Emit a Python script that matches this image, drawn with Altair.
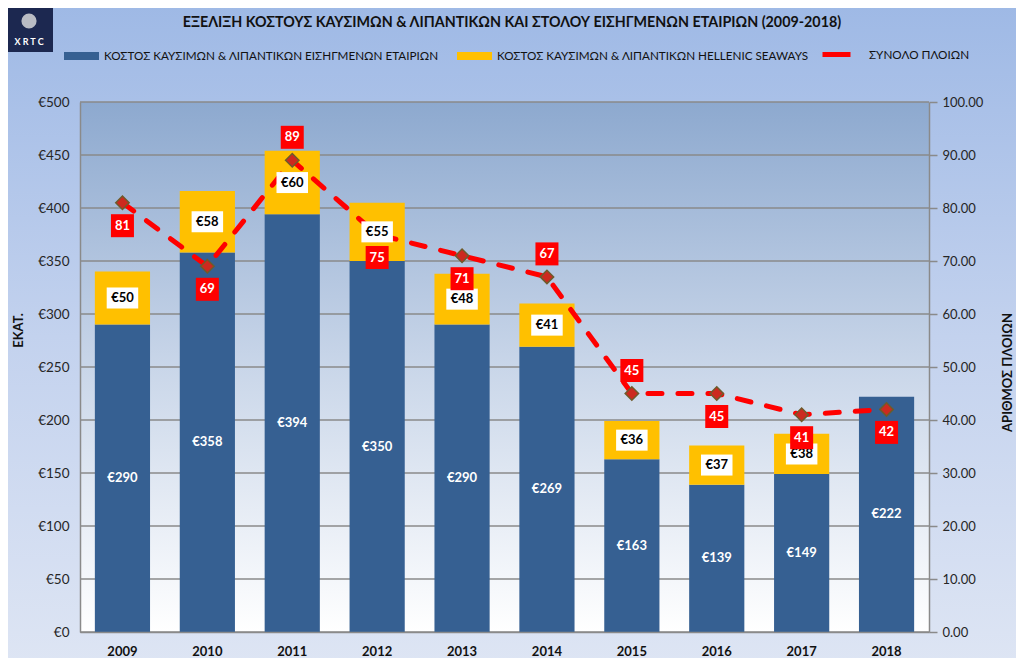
import altair as alt
import pandas as pd

# ---------------- data ----------------
years = ["2009", "2010", "2011", "2012", "2013", "2014", "2015", "2016", "2017", "2018"]
listed_cost = [290, 358, 394, 350, 290, 269, 163, 139, 149, 222]
hs_cost = [50, 58, 60, 55, 48, 41, 36, 37, 38, None]
ships = [81, 69, 89, 75, 71, 67, 45, 45, 41, 42]
ship_label_below = [True, True, False, True, True, False, False, True, True, True]
left_ticks = [0, 50, 100, 150, 200, 250, 300, 350, 400, 450, 500]
right_ticks = [0, 10, 20, 30, 40, 50, 60, 70, 80, 90, 100]

S1 = "ΚΟΣΤΟΣ ΚΑΥΣΙΜΩΝ & ΛΙΠΑΝΤΙΚΩΝ ΕΙΣΗΓΜΕΝΩΝ ΕΤΑΙΡΙΩΝ"
S2 = "ΚΟΣΤΟΣ ΚΑΥΣΙΜΩΝ & ΛΙΠΑΝΤΙΚΩΝ HELLENIC SEAWAYS"
S3 = "ΣΥΝΟΛΟ ΠΛΟΙΩΝ"
TITLE = "ΕΞΕΛΙΞΗ ΚΟΣΤΟΥΣ ΚΑΥΣΙΜΩΝ & ΛΙΠΑΝΤΙΚΩΝ ΚΑΙ ΣΤΟΛΟΥ ΕΙΣΗΓΜΕΝΩΝ ΕΤΑΙΡΙΩΝ (2009-2018)"

FONT = "Lato"
W, H = 849, 530
BLUE = "#366092"
YELLOW = "#FFC000"
RED = "#FF0000"
GRID = "#8a8a8a"
LEFT_MAX, RIGHT_MAX = 500, 100

# ---------------- tables ----------------
rows = []
for y, a, b in zip(years, listed_cost, hs_cost):
    rows.append({"year": y, "series": S1, "base": 0, "top": a, "val": a})
    if b is not None:
        rows.append({"year": y, "series": S2, "base": a, "top": a + b, "val": b})
bars_df = pd.DataFrame(rows)
bars_df["mid"] = (bars_df["base"] + bars_df["top"]) / 2
bars_df["label"] = "€" + bars_df["val"].astype(int).astype(str)

ships_df = pd.DataFrame({"year": years, "ships": ships, "below": ship_label_below})
ships_df["name"] = S3
ships_df["label"] = ships_df["ships"].astype(str)

grid_df = pd.DataFrame({"v": left_ticks})
one = pd.DataFrame({"k": [0]})

# ---------------- scales / axes ----------------
x_scale = alt.Scale(domain=years, paddingInner=0.35, paddingOuter=0.175)
yl_scale = alt.Scale(domain=[0, LEFT_MAX], nice=False)
yr_scale = alt.Scale(domain=[0, RIGHT_MAX], nice=False)

x_axis = alt.Axis(title=None, labelAngle=0, ticks=False, domain=True, domainColor=GRID,
                  domainWidth=1.5, labelFont=FONT, labelFontWeight="bold", labelFontSize=13,
                  labelColor="#111111", labelPadding=13, zindex=1)
yl_axis = alt.Axis(orient="left", values=left_ticks, labelExpr="'€' + datum.value", grid=False,
                   ticks=False, domain=True, domainColor=GRID, domainWidth=1.5,
                   labelFont=FONT, labelFontSize=13.5, labelColor="#262626", labelPadding=11,
                   title="ΕΚΑΤ.", titleFont=FONT, titleFontSize=13, titleFontWeight="bold",
                   titleColor="#111111", titleAngle=270, titleX=-62, titleY=228,
                   titleAlign="center", titleBaseline="middle", zindex=1)
yr_axis = alt.Axis(orient="right", values=right_ticks, format=".2f", grid=False,
                   ticks=True, tickSize=8, tickColor=GRID, tickWidth=1.5,
                   domain=True, domainColor=GRID, domainWidth=1.5,
                   labelFont=FONT, labelFontSize=13, labelColor="#262626", labelPadding=5,
                   title="ΑΡΙΘΜΟΣ ΠΛΟΙΩΝ", titleFont=FONT, titleFontSize=13,
                   titleFontWeight="bold", titleColor="#111111", titleAngle=270,
                   titleX=78, titleY=270, titleAlign="center", titleBaseline="middle", zindex=1)


def X():
    return alt.X("year:N", sort=years, scale=x_scale, axis=x_axis)


def YL(field):
    return alt.Y(field, scale=yl_scale, axis=yl_axis)


def YR(field):
    return alt.Y(field, scale=yr_scale, axis=yr_axis)


# ---------------- backgrounds ----------------
page_bg = alt.Chart(one).mark_rect(
    color=alt.Gradient(gradient="linear", x1=0, x2=0, y1=0, y2=1,
                       stops=[alt.GradientStop(color="#9db8e5", offset=0),
                              alt.GradientStop(color="#c3d2ee", offset=0.5),
                              alt.GradientStop(color="#dfe6f4", offset=1)])
).encode(x=alt.value(-90), x2=alt.value(W + 110), y=alt.value(-110), y2=alt.value(H + 50))

plot_bg = alt.Chart(one).mark_rect(
    color=alt.Gradient(gradient="linear", x1=0, x2=0, y1=0, y2=1,
                       stops=[alt.GradientStop(color="#8da9cf", offset=0),
                              alt.GradientStop(color="#c9d6e9", offset=0.5),
                              alt.GradientStop(color="#ffffff", offset=1)])
).encode(x=alt.value(0), x2=alt.value(W), y=alt.value(0), y2=alt.value(H))

# logo and title
logo_box = alt.Chart(one).mark_rect(color="#1c2850").encode(
    x=alt.value(-75), x2=alt.value(-27), y=alt.value(-99), y2=alt.value(-50))
logo_ship = alt.Chart(one).mark_point(shape="circle", filled=True, color="#b9bcc4", size=230,
                                      opacity=1).encode(x=alt.value(-51), y=alt.value(-81))
logo_text = alt.Chart(one).mark_text(text="X R T C", font=FONT, fontSize=9, fontWeight="bold",
                                     color="white").encode(x=alt.value(-51), y=alt.value(-60))
title_text = alt.Chart(one).mark_text(text=TITLE, font=FONT, fontSize=14.3, fontWeight="bold",
                                      color="#111111", align="center", baseline="middle").encode(
    x=alt.value(432), y=alt.value(-79))

grid = alt.Chart(grid_df).mark_rule(color=GRID, strokeWidth=1.5).encode(y=YL("v:Q"))

bars = alt.Chart(bars_df).mark_bar().encode(
    x=X(),
    y=YL("base:Q"),
    y2="top:Q",
    color=alt.Color("series:N", scale=alt.Scale(domain=[S1, S2], range=[BLUE, YELLOW]),
                    legend=alt.Legend(title=None, orient="none", direction="horizontal",
                                      legendX=-16, legendY=-64,
                                      symbolType="M-1,-0.23H1V0.23H-1Z", symbolSize=1225,
                                      symbolStrokeWidth=0, symbolOpacity=1,
                                      labelFont=FONT, labelFontSize=11.7, labelColor="#111111",
                                      labelOffset=5, columnPadding=18, labelLimit=600)),
)

blue_labels = alt.Chart(bars_df).mark_text(font=FONT, fontSize=13, fontWeight="bold",
                                           color="white", baseline="middle").encode(
    x=X(), y=YL("mid:Q"), text="label:N"
).transform_filter(alt.datum.series == S1)

left = alt.layer(page_bg, logo_box, logo_ship, logo_text, title_text, plot_bg, grid, bars,
                 blue_labels)

# ---------------- right axis layers ----------------
line = alt.Chart(ships_df).mark_line(strokeWidth=5, strokeDash=[14, 16], strokeCap="round").encode(
    x=X(),
    y=YR("ships:Q"),
    stroke=alt.Stroke("name:N", scale=alt.Scale(domain=[S3], range=[RED]),
                      legend=alt.Legend(title=None, orient="none", legendX=740, legendY=-64,
                                        symbolType="stroke", symbolSize=784,
                                        symbolStrokeWidth=5, labelFont=FONT, labelFontSize=11.7,
                                        labelColor="#111111", labelOffset=16)),
)
points = alt.Chart(ships_df).mark_point(shape="diamond", filled=True, size=180, fill="#cc2a1f",
                                        stroke="#6e5b2b", strokeWidth=1.5, opacity=1).encode(
    x=X(), y=YR("ships:Q"))

# Seaways labels drawn over the line (converted to the right-hand scale's units)
hs_calc = dict(mid_r=f"datum.mid * {RIGHT_MAX} / {LEFT_MAX}")
white_boxes = alt.Chart(bars_df).mark_point(shape="M-1.5,-1H1.5V1H-1.5Z", size=441, filled=True,
                                            color="white", opacity=1, strokeWidth=0).encode(
    x=X(), y=YR("mid_r:Q")
).transform_filter(alt.datum.series == S2).transform_calculate(**hs_calc)

yellow_labels = alt.Chart(bars_df).mark_text(font=FONT, fontSize=13, fontWeight="bold",
                                             color="black", baseline="middle").encode(
    x=X(), y=YR("mid_r:Q"), text="label:N"
).transform_filter(alt.datum.series == S2).transform_calculate(**hs_calc)


def red_labels(below):
    off = 23 if below else -23
    cond = alt.datum.below if below else ~alt.datum.below
    box = alt.Chart(ships_df).mark_point(shape="square", size=529, filled=True, color=RED,
                                         opacity=1, strokeWidth=0, yOffset=off).encode(
        x=X(), y=YR("ships:Q")).transform_filter(cond)
    txt = alt.Chart(ships_df).mark_text(font=FONT, fontSize=13, fontWeight="bold", color="white",
                                        baseline="middle", yOffset=off).encode(
        x=X(), y=YR("ships:Q"), text="label:N").transform_filter(cond)
    return [box, txt]


right = alt.layer(line, points, white_boxes, yellow_labels, *red_labels(True), *red_labels(False))

chart = alt.layer(left, right).resolve_scale(y="independent").properties(
    width=W, height=H,
    padding={"left": 72, "top": 94, "right": 87, "bottom": 26},
    autosize=alt.AutoSizeParams(type="none"),
).configure_view(stroke=None)

chart.save("out.html", embed_options={"renderer": "svg", "actions": False})
